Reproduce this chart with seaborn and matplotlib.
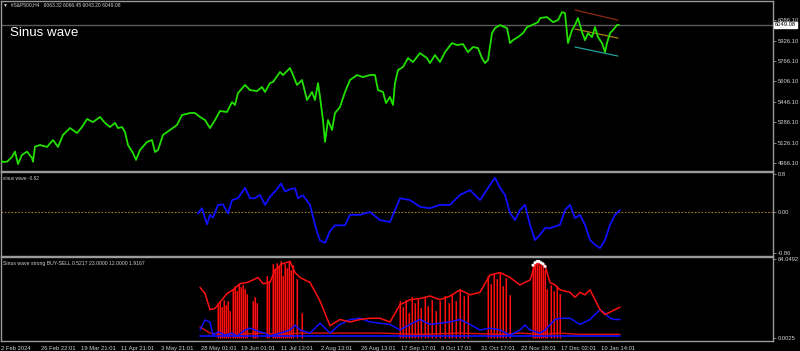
import matplotlib
matplotlib.use("Agg")
import matplotlib.pyplot as plt
import seaborn as sns
import numpy as np
import pandas as pd

# ---------------- data (bar positions in chart units) ----------------
price_x = [0, 3, 7, 12, 15, 18, 22, 27, 32, 33, 35, 40, 47, 53, 58, 63, 70, 77, 82, 87,
           93, 100, 105, 110, 115, 118, 122, 125, 128, 133, 136, 140, 147, 152, 155, 158,
           163, 170, 177, 182, 190, 195, 200, 205, 210, 215, 220, 227, 232, 235, 238, 245,
           250, 257, 262, 265, 270, 273, 280, 283, 290, 293, 297, 302, 307, 312, 315, 318,
           320, 323, 325, 328, 332, 335, 340, 345, 350, 357, 363, 370, 375, 378, 383, 386,
           390, 393, 395, 398, 403, 408, 413, 420, 427, 430, 435, 440, 445, 452, 457, 463,
           468, 473, 478, 482, 485, 488, 492, 495, 500, 507, 510, 513, 518, 523, 527, 532,
           538, 540, 547, 553, 558, 562, 565, 567, 568, 572, 575, 578, 582, 585, 588, 592,
           595, 598, 602, 605, 607, 610, 613, 617, 619]
price = [4990, 4974, 4976, 5013, 5055, 4958, 5029, 5055, 5005, 4976, 5094, 5107, 5092, 5146,
         5092, 5186, 5240, 5201, 5248, 5311, 5287, 5327, 5280, 5248, 5280, 5240, 5248, 5209,
         5107, 5044, 4990, 5068, 5131, 5146, 5052, 5068, 5186, 5225, 5264, 5342, 5358, 5358,
         5327, 5303, 5240, 5303, 5374, 5366, 5444, 5421, 5515, 5578, 5538, 5530, 5562, 5523,
         5593, 5601, 5680, 5656, 5711, 5656, 5578, 5617, 5460, 5523, 5460, 5593, 5484, 5303,
         5131, 5303, 5225, 5358, 5405, 5523, 5617, 5656, 5640, 5656, 5656, 5538, 5523, 5436,
         5484, 5421, 5593, 5695, 5719, 5789, 5758, 5828, 5789, 5750, 5813, 5758, 5836, 5907,
         5891, 5899, 5836, 5876, 5868, 5789, 5750, 5774, 5985, 6024, 6048, 6024, 5907, 5930,
         5954, 5985, 6032, 6048, 6071, 6103, 6111, 6071, 6087, 6150, 6142, 5985, 5907, 6009,
         6048, 6103, 5993, 5930, 5985, 5954, 6032, 5954, 5907, 5836, 5907, 5985, 6009, 6048,
         6049]
last_price = 6049.08

# trend channel (start/end bar, price)
chan_x = [575, 618]
chan_upper = [6166, 6087]
chan_mid = [6017, 5946]
chan_lower = [5876, 5805]

# sinus wave oscillator
sw_x = [198, 202, 204, 207, 210, 213, 218, 223, 228, 232, 238, 245, 250, 255, 260, 265, 270,
        277, 281, 285, 290, 295, 298, 303, 310, 316, 320, 325, 330, 335, 345, 350, 360, 370,
        380, 390, 395, 400, 410, 420, 430, 440, 450, 460, 470, 480, 490, 495, 500, 505, 510,
        515, 520, 525, 530, 535, 540, 545, 550, 560, 565, 570, 575, 580, 585, 590, 595, 600,
        605, 610, 615, 620]
sw = [-0.03, 0.08, -0.06, -0.26, -0.06, -0.12, 0.15, 0.16, -0.03, 0.25, 0.29, 0.51, 0.29,
      0.29, 0.36, 0.15, 0.32, 0.48, 0.60, 0.43, 0.48, 0.50, 0.29, 0.35, 0.15, -0.35, -0.60,
      -0.65, -0.40, -0.28, -0.28, -0.06, -0.06, 0.00, -0.17, -0.21, 0.04, 0.29, 0.25, 0.11,
      0.08, 0.15, 0.15, 0.36, 0.46, 0.25, 0.57, 0.72, 0.51, 0.36, -0.02, -0.17, 0.04, 0.15,
      -0.27, -0.59, -0.48, -0.34, -0.34, -0.27, 0.04, 0.15, -0.13, -0.06, -0.27, -0.59,
      -0.69, -0.76, -0.59, -0.27, -0.06, 0.04]

# BUY-SELL strength panel
red_x = [200, 205, 210, 215, 220, 227, 233, 240, 247, 253, 258, 263, 270, 275, 282, 290,
         295, 300, 310, 320, 330, 340, 350, 360, 370, 380, 390, 400, 410, 420, 430, 440,
         450, 460, 470, 480, 490, 500, 510, 520, 530, 535, 540, 545, 550, 555, 560, 570,
         575, 580, 585, 590, 595, 600, 605, 610, 615, 620]
red = [41, 36, 23, 24, 29, 36, 39, 44, 45, 47, 49, 44, 45, 55, 60, 62, 53, 49, 45, 30, 10,
       15, 13, 15, 16, 16, 13, 27, 31, 32, 34, 31, 34, 39, 35, 37, 51, 53, 49, 43, 47, 59,
       61, 59, 45, 43, 39, 37, 33, 37, 35, 39, 31, 23, 19, 21, 23, 25]
blue_x = [200, 205, 210, 213, 218, 225, 232, 237, 245, 250, 255, 260, 265, 270, 280, 290,
          295, 300, 310, 320, 330, 340, 350, 360, 370, 380, 390, 400, 410, 420, 430, 440,
          450, 460, 470, 480, 490, 500, 510, 520, 525, 530, 540, 545, 555, 560, 570, 580,
          590, 595, 600, 605, 610, 615, 620]
blue = [6.5, 14.6, 13, 2.4, 5, 2.4, 4, 1.6, 6.5, 8, 6.5, 5, 4, 1.6, 4, 6.5, 10.5, 6.5, 4,
        12, 4, 11, 15, 16, 13, 12, 11, 6.5, 11, 15, 11, 12, 13, 15, 11, 6.5, 8, 6.5, 2.4,
        6.5, 10.5, 6.5, 4, 6.5, 15, 16, 16, 11, 15, 19, 23, 20, 16, 15, 15]
low_red_x = [200, 210, 220, 240, 260, 280, 300, 340, 380, 420, 460, 500, 520, 540, 560,
             580, 600, 620]
low_red = [9, 4, 3, 3, 4, 3, 4, 4, 4, 3, 4, 3, 4, 3, 4, 3, 3, 3]
base_blue = [1.6, 1.6]
base_blue_x = [200, 620]

hist_x = [218, 220, 222, 224, 226, 228, 230, 233, 235, 237, 239, 241, 243, 245, 247, 253,
          255, 257, 267, 269, 273, 275, 277, 279, 281, 283, 285, 287, 289, 291, 293, 297,
          302, 400, 403, 406, 409, 412, 415, 418, 421, 425, 428, 432, 436, 440, 445, 449,
          452, 456, 460, 464, 468, 488, 491, 494, 497, 500, 503, 506, 510, 533, 535, 537,
          539, 541, 543, 545, 547, 551, 554, 557, 560]
hist = [28, 30, 25, 31, 27, 30, 22, 40, 42, 38, 44, 41, 43, 40, 36, 30, 33, 28, 50, 46, 60,
        56, 61, 58, 62, 50, 60, 57, 62, 55, 59, 48, 20, 30, 25, 31, 20, 33, 28, 32, 24, 33,
        26, 31, 22, 30, 34, 28, 36, 30, 39, 34, 35, 50, 44, 52, 48, 53, 42, 49, 35, 58, 61,
        62, 60, 61, 59, 55, 40, 43, 38, 42, 36]
dots_x = [533, 535, 537, 539, 541, 543, 545]
dots = [59, 61, 62, 62, 61, 60, 58]

price_ticks = [4966.10, 5126.10, 5286.10, 5446.10, 5606.10, 5766.10, 5926.10, 6086.10]
date_pos = [1, 41, 81, 121, 161, 201, 241, 281, 321, 361, 401, 441, 481, 521, 561, 601]
date_labels = ["2 Feb 2024", "26 Feb 22:01", "19 Mar 21:01", "11 Apr 21:01", "3 May 21:01",
               "28 May 01:01", "19 Jun 01:01", "11 Jul 13:01", "2 Aug 13:01", "26 Aug 13:01",
               "17 Sep 17:01", "9 Oct 17:01", "31 Oct 17:01", "22 Nov 18:01", "17 Dec 02:01",
               "10 Jan 14:01"]

# ---------------- styling ----------------
sns.set_theme(style="dark")
plt.rcParams["font.family"] = ["Liberation Sans", "DejaVu Sans"]
BG = "black"
GRID = "#9a9a9a"
TXT = "#d0d0d0"
FS = 4.2

W, H = 800, 351
fig = plt.figure(figsize=(8, 3.51), dpi=100, facecolor=BG)

def mk(top, bottom):
    return fig.add_axes([1 / W, 1 - bottom / H, 772 / W, (bottom - top) / H], facecolor=BG)

ax1 = mk(1, 171)
ax2 = mk(172, 256)
ax3 = mk(257, 341)

for ax in (ax1, ax2, ax3):
    ax.set_xlim(1, 773)
    ax.grid(False)
    for s in ax.spines.values():
        s.set_color(GRID)
        s.set_linewidth(1.0)
    ax.yaxis.tick_right()
    ax.tick_params(axis="y", direction="out", length=2.5, width=0.6, color=GRID,
                   labelsize=FS, labelcolor=TXT, pad=1)
    ax.tick_params(axis="x", length=0, labelbottom=False)

# main price panel
ax1.set_ylim(4903, 6237)
ax1.axhline(last_price, color="#5a5a5a", lw=1.0, zorder=1)
sns.lineplot(x=price_x, y=price, ax=ax1, color="#22e000", lw=1.3, sort=False,
             estimator=None, zorder=3)
sns.lineplot(x=chan_x, y=chan_upper, ax=ax1, color="#8b2a10", lw=0.9, estimator=None)
sns.lineplot(x=chan_x, y=chan_mid, ax=ax1, color="#b08010", lw=0.9, estimator=None)
sns.lineplot(x=chan_x, y=chan_lower, ax=ax1, color="#20a0a0", lw=0.9, estimator=None)
ax1.set_yticks(price_ticks)
ax1.set_yticklabels([f"{v:.2f}" for v in price_ticks])
ax1.text(775, last_price, f"{last_price:.2f}", transform=ax1.transData,
         fontsize=FS, color="black", va="center", ha="left",
         bbox=dict(boxstyle="square,pad=0.15", fc="white", ec="white"), clip_on=False)
ax1.text(10, 0.81, "Sinus wave", transform=ax1.get_xaxis_transform(), fontsize=9.6,
         color="white", va="center", ha="left")
fig.text(3 / W, 1 - 5 / H, "\u25bc  #S&P500,H4   6063.32 6066.45 6043.20 6049.08",
         fontsize=3.6, color=TXT, va="center", ha="left")
ax1.set_xlabel("")
ax1.set_ylabel("")

# sinus wave panel
ax2.set_ylim(-0.926, 0.842)
ax2.axhline(0, color="#a07a20", lw=0.8, ls=(0, (1.5, 1.5)))
sns.lineplot(x=sw_x, y=sw, ax=ax2, color="#1010ff", lw=1.3, estimator=None, sort=False)
ax2.set_yticks([0.8, 0.0, -0.86])
ax2.set_yticklabels(["0.8", "0.00", "-0.86"])
ax2.text(3, 0.95, "sinus wave -0.82", transform=ax2.get_xaxis_transform(), fontsize=3.4,
         color=TXT, va="top", ha="left")
ax2.set_xlabel("")
ax2.set_ylabel("")

# strength panel
ax3.set_ylim(-2.4, 65.6)
ax3.bar(hist_x, hist, width=2.6, color="#7a0000", lw=0, zorder=1)
ax3.vlines(hist_x, 0, hist, color="#ff1010", lw=0.8, zorder=2)
sns.lineplot(x=low_red_x, y=low_red, ax=ax3, color="#e01010", lw=1.0, estimator=None)
sns.lineplot(x=base_blue_x, y=base_blue, ax=ax3, color="#1010ff", lw=1.2, estimator=None)
sns.lineplot(x=blue_x, y=blue, ax=ax3, color="#1010ff", lw=1.1, estimator=None, sort=False)
sns.lineplot(x=red_x, y=red, ax=ax3, color="#ff1010", lw=1.1, estimator=None, sort=False)
sns.scatterplot(x=dots_x, y=dots, ax=ax3, color="white", s=5, edgecolor="none", zorder=5)
ax3.set_yticks([64.0492, 0.0025])
ax3.set_yticklabels(["64.0492", "0.0025"])
ax3.text(3, 0.95, "Sinus wave strong BUY-SELL 0.5217 23.0000 12.0000 1.9167",
         transform=ax3.get_xaxis_transform(), fontsize=3.7, color=TXT, va="top", ha="left")
ax3.set_xlabel("")
ax3.set_ylabel("")

ax3.set_xticks(date_pos)
ax3.set_xticklabels(date_labels)
ax3.tick_params(axis="x", direction="out", length=2.5, width=0.6, color=GRID,
                labelbottom=True, labelsize=FS, labelcolor=TXT, pad=1)
for lab in ax3.get_xticklabels():
    lab.set_horizontalalignment("left")

for ax in (ax1, ax2, ax3):
    leg = ax.get_legend()
    if leg:
        leg.remove()

fig.savefig("out.png", dpi=100, facecolor=BG)
